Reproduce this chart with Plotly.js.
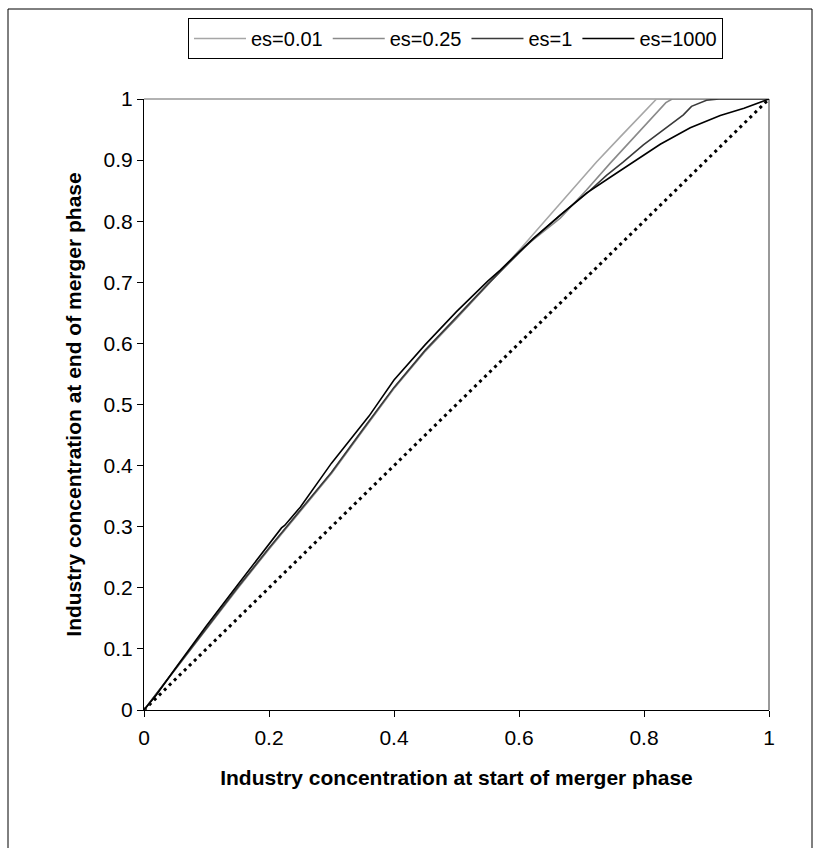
<!DOCTYPE html>
<html>
<head>
<meta charset="utf-8">
<script src="https://cdn.plot.ly/plotly-3.0.1.min.js"></script>
<style>
  html, body { margin: 0; padding: 0; background: #ffffff; }
  #chart { width: 815px; height: 848px; }
</style>
</head>
<body>
<div id="chart"></div>
<script>
// ---- data ----
const seriesNames = ["es=0.01", "es=0.25", "es=1", "es=1000"];

const x_es001 = [0, 0.05, 0.1, 0.15, 0.2, 0.25, 0.3, 0.35, 0.4, 0.45, 0.5, 0.55, 0.6, 0.65, 0.687, 0.724, 0.762, 0.796, 0.82, 0.9, 1];
const y_es001 = [0, 0.066, 0.134, 0.199, 0.263, 0.325, 0.387, 0.457, 0.526, 0.587, 0.641, 0.696, 0.752, 0.810, 0.854, 0.897, 0.938, 0.974, 1.0, 1.0, 1.0];

const x_es025 = [0, 0.05, 0.1, 0.15, 0.2, 0.25, 0.3, 0.35, 0.4, 0.45, 0.5, 0.55, 0.6, 0.666, 0.708, 0.746, 0.783, 0.818, 0.835, 0.845, 0.9, 1];
const y_es025 = [0, 0.066, 0.134, 0.200, 0.264, 0.326, 0.388, 0.458, 0.527, 0.588, 0.641, 0.696, 0.751, 0.805, 0.851, 0.895, 0.936, 0.974, 0.994, 1.0, 1.0, 1.0];

const x_es1 = [0, 0.05, 0.1, 0.15, 0.2, 0.25, 0.3, 0.35, 0.4, 0.45, 0.5, 0.55, 0.6, 0.623, 0.666, 0.71, 0.74, 0.767, 0.799, 0.831, 0.863, 0.876, 0.9, 0.92, 1];
const y_es1 = [0, 0.067, 0.135, 0.201, 0.265, 0.327, 0.389, 0.459, 0.528, 0.589, 0.643, 0.697, 0.748, 0.771, 0.810, 0.847, 0.875, 0.897, 0.925, 0.949, 0.974, 0.988, 0.998, 1.0, 1.0];

const x_es1000 = [0, 0.02, 0.05, 0.06, 0.1, 0.15, 0.2, 0.22, 0.225, 0.25, 0.3, 0.35, 0.36, 0.4, 0.45, 0.5, 0.55, 0.57, 0.623, 0.666, 0.708, 0.746, 0.783, 0.826, 0.874, 0.922, 0.96, 1];
const y_es1000 = [0, 0.025, 0.068, 0.082, 0.138, 0.205, 0.272, 0.298, 0.302, 0.332, 0.404, 0.468, 0.481, 0.540, 0.598, 0.652, 0.702, 0.720, 0.772, 0.810, 0.846, 0.872, 0.897, 0.926, 0.953, 0.973, 0.985, 1.0];

// 45-degree reference line
const x_diag = [0, 1];
const y_diag = [0, 1];

const xTickVals = [0, 0.2, 0.4, 0.6, 0.8, 1];
const xTickText = ["0", "0.2", "0.4", "0.6", "0.8", "1"];
const yTickVals = [0, 0.1, 0.2, 0.3, 0.4, 0.5, 0.6, 0.7, 0.8, 0.9, 1];
const yTickText = ["0", "0.1", "0.2", "0.3", "0.4", "0.5", "0.6", "0.7", "0.8", "0.9", "1"];

// ---- chart ----
const FONT = "Liberation Sans, Arial, sans-serif";

const traces = [
  {x: x_diag, y: y_diag, mode: "lines", showlegend: false, hoverinfo: "skip",
   line: {color: "#000000", width: 3, dash: "3px,4px"}},
  {x: x_es001, y: y_es001, mode: "lines", name: seriesNames[0], line: {color: "#a6a6a6", width: 1.6}},
  {x: x_es025, y: y_es025, mode: "lines", name: seriesNames[1], line: {color: "#8a8a8a", width: 1.6}},
  {x: x_es1, y: y_es1, mode: "lines", name: seriesNames[2], line: {color: "#3a3a3a", width: 1.6}},
  {x: x_es1000, y: y_es1000, mode: "lines", name: seriesNames[3], line: {color: "#000000", width: 1.6}}
];

// plot area in pixels: x 144..769, y 99..710
const L = 144, R = 769, T = 99, B = 710;
const W = R - L, H = B - T;
const px = v => (v - L) / W;
const py = v => (B - v) / H;

const layout = {
  width: 815, height: 848,
  margin: {l: L, r: 815 - R, t: T, b: 848 - B, pad: 0},
  paper_bgcolor: "#ffffff",
  plot_bgcolor: "#ffffff",
  font: {family: FONT, size: 20, color: "#000000"},
  showlegend: true,
  legend: {
    orientation: "h",
    x: px(188), xanchor: "left",
    y: py(18), yanchor: "top",
    bgcolor: "#ffffff",
    bordercolor: "#000000", borderwidth: 1,
    font: {family: FONT, size: 20, color: "#000000"},
    itemwidth: 52,
    traceorder: "normal"
  },
  xaxis: {
    range: [0, 1], autorange: false,
    tickmode: "array", tickvals: xTickVals, ticktext: xTickText,
    ticks: "outside", ticklen: 6, tickwidth: 1, tickcolor: "#000000",
    ticklabelstandoff: 3,
    showline: true, linecolor: "#000000", linewidth: 1,
    showgrid: false, zeroline: false, mirror: false,
    tickfont: {family: FONT, size: 21, color: "#000000"},
    title: {text: "<b>Industry concentration at start of merger phase</b>",
            font: {family: FONT, size: 21, color: "#000000"}, standoff: 22},
    fixedrange: true
  },
  yaxis: {
    range: [0, 1], autorange: false,
    tickmode: "array", tickvals: yTickVals, ticktext: yTickText,
    ticks: "outside", ticklen: 6, tickwidth: 1, tickcolor: "#000000",
    showline: true, linecolor: "#000000", linewidth: 1,
    showgrid: false, zeroline: false, mirror: false,
    tickfont: {family: FONT, size: 21, color: "#000000"},
    title: {text: "<b>Industry concentration at end of merger phase</b>",
            font: {family: FONT, size: 21, color: "#000000"}, standoff: 16},
    fixedrange: true
  },
  shapes: [
    // gray top and right border of plot area
    {type: "line", xref: "paper", yref: "paper", x0: 0, x1: 1, y0: 1, y1: 1,
     line: {color: "#999999", width: 1.5}, layer: "below"},
    {type: "line", xref: "paper", yref: "paper", x0: 1, x1: 1, y0: 0, y1: 1,
     line: {color: "#999999", width: 2}, layer: "below"},
    // outer chart frame
    {type: "rect", xref: "paper", yref: "paper",
     x0: px(8), x1: px(812), y0: py(870), y1: py(9),
     line: {color: "#000000", width: 1}, fillcolor: "rgba(0,0,0,0)", layer: "below"}
  ]
};

Plotly.newPlot("chart", traces, layout, {staticPlot: true, displayModeBar: false});
</script>
</body>
</html>
